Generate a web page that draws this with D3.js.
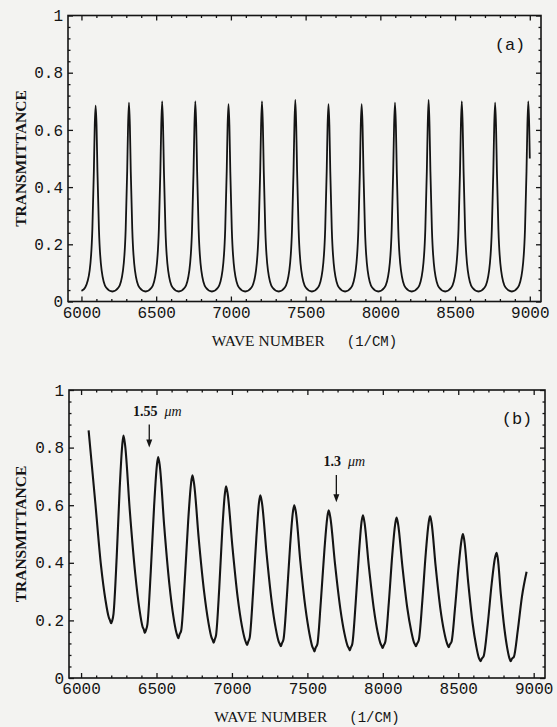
<!DOCTYPE html>
<html><head><meta charset="utf-8">
<script src="https://cdn.jsdelivr.net/npm/d3@7"></script>
<style>
html,body{margin:0;padding:0;background:#f3f3f1;}
svg{display:block;}
</style></head><body>
<svg id="chart" width="557" height="727"></svg>
<script>
// ---------- data ----------
const xTickValues = [6000, 6500, 7000, 7500, 8000, 8500, 9000];
const xTickLabels = ["6000", "6500", "7000", "7500", "8000", "8500", "9000"];
const yTickValues = [0, 0.2, 0.4, 0.6, 0.8, 1];
const yTickLabels = ["0", "0.2", "0.4", "0.6", "0.8", "1"];
const xAxisTitle = "WAVE NUMBER";
const xAxisUnit = "(1/CM)";
const yAxisTitle = "TRANSMITTANCE";
const panelLabels = ["(a)", "(b)"];

// (a) calculated transmittance [wave number, transmittance]
const panelASeries = [
 [6000,.037],[6025,.049],[6055,.109],[6073,.253],[6083,.455],[6089,.616],[6095,.685],[6101,.616],[6107,.455],[6117,.253],[6135,.109],[6165,.049],[6207,.035],
 [6248,.049],[6278,.109],[6296,.253],[6306,.455],[6312,.616],[6318,.695],[6324,.616],[6330,.455],[6340,.253],[6358,.109],[6388,.049],[6429,.035],
 [6470,.049],[6500,.109],[6518,.253],[6528,.455],[6534,.616],[6540,.70],[6546,.616],[6552,.455],[6562,.253],[6580,.109],[6610,.049],[6651,.035],
 [6692,.049],[6722,.109],[6740,.253],[6750,.455],[6756,.616],[6762,.70],[6768,.616],[6774,.455],[6784,.253],[6802,.109],[6832,.049],[6873,.035],
 [6914,.049],[6944,.109],[6962,.253],[6972,.455],[6978,.616],[6984,.69],[6990,.616],[6996,.455],[7006,.253],[7024,.109],[7054,.049],[7096,.035],
 [7138,.049],[7168,.109],[7186,.253],[7196,.455],[7202,.616],[7208,.70],[7214,.616],[7220,.455],[7230,.253],[7248,.109],[7278,.049],[7320,.035],
 [7361,.049],[7391,.109],[7409,.253],[7419,.455],[7425,.616],[7431,.705],[7437,.616],[7443,.455],[7453,.253],[7471,.109],[7501,.049],[7542,.035],
 [7583,.049],[7613,.109],[7631,.253],[7641,.455],[7647,.616],[7653,.69],[7659,.616],[7665,.455],[7675,.253],[7693,.109],[7723,.049],[7764,.035],
 [7805,.049],[7835,.109],[7853,.253],[7863,.455],[7869,.616],[7875,.69],[7881,.616],[7887,.455],[7897,.253],[7915,.109],[7945,.049],[7987,.035],
 [8028,.049],[8058,.109],[8076,.253],[8086,.455],[8092,.616],[8098,.695],[8104,.616],[8110,.455],[8120,.253],[8138,.109],[8168,.049],[8210,.035],
 [8253,.049],[8283,.109],[8301,.253],[8311,.455],[8317,.616],[8323,.705],[8329,.616],[8335,.455],[8345,.253],[8363,.109],[8393,.049],[8434,.035],
 [8475,.049],[8505,.109],[8523,.253],[8533,.455],[8539,.616],[8545,.70],[8551,.616],[8557,.455],[8567,.253],[8585,.109],[8615,.049],[8657,.035],
 [8698,.049],[8728,.109],[8746,.253],[8756,.455],[8762,.616],[8768,.695],[8774,.616],[8780,.455],[8790,.253],[8808,.109],[8838,.049],[8880,.035],
 [8920,.049],[8950,.109],[8968,.253],[8978,.455],[8984,.616],[8990,.70],[8996,.616],[9000,.50]
];

// (b) measured transmittance [wave number, transmittance]
const panelBSeries = [
 [6050,.86],[6095,.605],[6132,.391],[6162,.27],[6184,.21],[6192,.2],[6199,.19],[6206,.198],
 [6215,.223],[6236,.418],[6256,.659],[6273,.809],[6281,.842],
 [6292,.808],[6323,.581],[6359,.362],[6387,.238],[6408,.177],[6416,.168],[6422,.156],[6430,.166],
 [6440,.187],[6462,.37],[6484,.596],[6502,.736],[6511,.767],
 [6522,.736],[6551,.528],[6585,.327],[6612,.213],[6632,.157],[6639,.145],[6645,.138],[6652,.15],
 [6664,.166],[6687,.336],[6710,.546],[6729,.676],[6738,.704],
 [6749,.675],[6780,.483],[6816,.297],[6844,.193],[6865,.14],[6872,.132],[6879,.123],[6886,.134],
 [6895,.15],[6916,.313],[6936,.514],[6953,.639],[6961,.666],
 [6972,.638],[7003,.457],[7038,.28],[7066,.181],[7087,.132],[7094,.122],[7101,.115],[7108,.126],
 [7118,.141],[7140,.297],[7162,.489],[7179,.608],[7188,.634],
 [7199,.608],[7229,.435],[7263,.267],[7290,.173],[7310,.126],[7317,.118],[7324,.11],[7331,.12],
 [7342,.135],[7364,.282],[7386,.463],[7404,.576],[7413,.60],
 [7424,.575],[7453,.407],[7487,.244],[7514,.153],[7534,.107],[7541,.1],[7547,.092],[7554,.104],
 [7566,.117],[7589,.264],[7613,.445],[7632,.558],[7641,.582],
 [7652,.558],[7683,.397],[7718,.242],[7746,.154],[7767,.111],[7774,.104],[7781,.096],[7788,.106],
 [7798,.119],[7820,.26],[7842,.434],[7859,.542],[7868,.565],
 [7878,.542],[7907,.39],[7940,.242],[7966,.159],[7986,.118],[7993,.111],[7999,.104],[8006,.113],
 [8017,.127],[8040,.263],[8063,.43],[8082,.534],[8091,.557],
 [8101,.535],[8130,.387],[8162,.244],[8188,.164],[8207,.123],[8214,.116],[8220,.11],[8227,.119],
 [8239,.133],[8262,.268],[8285,.435],[8304,.539],[8313,.562],
 [8323,.539],[8350,.389],[8381,.243],[8406,.162],[8425,.121],[8431,.113],[8437,.107],[8444,.116],
 [8456,.127],[8479,.245],[8503,.39],[8522,.48],[8531,.50],
 [8540,.478],[8566,.332],[8595,.191],[8619,.111],[8636,.071],[8642,.064],[8648,.058],[8655,.066],
 [8669,.077],[8696,.19],[8722,.329],[8743,.416],[8754,.435],
 [8762,.416],[8782,.292],[8806,.171],[8825,.103],[8839,.069],[8844,.062],[8848,.058],[8855,.066],
 [8869,.074],[8895,.167],[8922,.282],[8953,.369]
];

// wavelength markers in panel (b)
const markerValues = ["1.55", "1.3"];
const markerUnit = "μm";
const markerWaves = [6452, 7692];
const markerArrowTop = [0.88, 0.705];
const markerArrowTip = [0.80, 0.61];
const markerTextLevel = [0.925, 0.75];

// ---------- drawing ----------
const svg = d3.select("#chart");
svg.append("rect").attr("width", 557).attr("height", 727).attr("fill", "#f3f3f1");

const ink = "#141414";
const monoFont = "'Liberation Mono','DejaVu Sans Mono',monospace";
const serifFont = "'Liberation Serif','DejaVu Serif',serif";

function drawPanel(cfg) {
  const x = d3.scaleLinear().domain(cfg.xDomain).range([cfg.left, cfg.right]);
  const y = d3.scaleLinear().domain([0, 1]).range([cfg.bottom, cfg.top]);
  const g = svg.append("g");

  const xMinor = d3.range(6000, 9001, 100).filter(v => v % 500 !== 0);
  const yMinor = d3.range(0, 1.0001, 0.04).map(v => +v.toFixed(2)).filter(v => Math.abs(v * 5 - Math.round(v * 5)) > 1e-6);

  function ax(axisFn, scale, vals, size, tr, labels, pad, fs) {
    const a = axisFn(scale).tickValues(vals).tickSizeInner(size).tickSizeOuter(0).tickPadding(pad || 3)
      .tickFormat(labels ? ((d, i) => labels[i]) : "");
    const sel = g.append("g").attr("transform", tr).call(a);
    sel.select(".domain").remove();
    sel.selectAll(".tick line").attr("stroke", ink).attr("stroke-width", 1.3);
    sel.selectAll(".tick text").attr("fill", ink).attr("font-family", monoFont).attr("font-size", fs || 16);
    return sel;
  }
  ax(d3.axisBottom, x, xTickValues, -5, `translate(0,${cfg.bottom})`, xTickLabels, 5);
  ax(d3.axisLeft, y, yTickValues, -5, `translate(${cfg.left},0)`, yTickLabels, 5);
  ax(d3.axisTop, x, xTickValues, -5, `translate(0,${cfg.top})`);
  ax(d3.axisRight, y, yTickValues, -5, `translate(${cfg.right},0)`);
  ax(d3.axisBottom, x, xMinor, -2.5, `translate(0,${cfg.bottom})`);
  ax(d3.axisTop, x, xMinor, -2.5, `translate(0,${cfg.top})`);
  ax(d3.axisLeft, y, yMinor, -2.5, `translate(${cfg.left},0)`);
  ax(d3.axisRight, y, yMinor, -2.5, `translate(${cfg.right},0)`);

  g.append("rect").attr("x", cfg.left).attr("y", cfg.top)
    .attr("width", cfg.right - cfg.left).attr("height", cfg.bottom - cfg.top)
    .attr("fill", "none").attr("stroke", ink).attr("stroke-width", 1.6);

  const line = d3.line().x(d => x(d[0])).y(d => y(d[1])).curve(d3.curveMonotoneX);
  g.append("path").datum(cfg.series).attr("d", line)
    .attr("fill", "none").attr("stroke", ink).attr("stroke-width", cfg.lineWidth)
    .attr("stroke-linejoin", "round");

  const cx = (cfg.left + cfg.right) / 2;
  const t = g.append("text").attr("x", cx).attr("y", cfg.titleY).attr("text-anchor", "middle").attr("fill", ink);
  t.append("tspan").attr("font-family", serifFont).attr("font-size", 15.5).text(xAxisTitle);
  t.append("tspan").attr("dx", 22).attr("font-family", monoFont).attr("font-size", 14).text(xAxisUnit);

  g.append("text").attr("transform", `translate(${cfg.yTitleX},${(cfg.top + cfg.bottom) / 2}) rotate(-90)`)
    .attr("text-anchor", "middle").attr("dominant-baseline", "central")
    .attr("font-family", serifFont).attr("font-weight", "bold").attr("font-size", 15.5)
    .attr("fill", ink).text(yAxisTitle);

  g.append("text").attr("x", cfg.labelX).attr("y", cfg.labelY).attr("text-anchor", "middle")
    .attr("font-family", monoFont).attr("font-size", 17).attr("fill", ink).text(cfg.label);

  return { x, y, g };
}

const panelA = drawPanel({
  xDomain: [5910, 9075], left: 68, right: 541, top: 15.5, bottom: 301.5,
  series: panelASeries, lineWidth: 1.8, titleY: 346, yTitleX: 20,
  label: panelLabels[0], labelX: 510, labelY: 50
});
const panelB = drawPanel({
  xDomain: [5920, 9075], left: 69, right: 545, top: 390, bottom: 678,
  series: panelBSeries, lineWidth: 2.1, titleY: 722, yTitleX: 20,
  label: panelLabels[1], labelX: 517, labelY: 424
});

markerValues.forEach((val, i) => {
  const { x, y, g } = panelB;
  const xv = x(markerWaves[i]);
  const y0 = y(markerArrowTop[i]), y1 = y(markerArrowTip[i]);
  g.append("line").attr("x1", xv).attr("x2", xv).attr("y1", y0).attr("y2", y1 - 6)
    .attr("stroke", ink).attr("stroke-width", 1.3);
  g.append("path").attr("d", `M${xv - 3},${y1 - 8} L${xv + 3},${y1 - 8} L${xv},${y1} Z`).attr("fill", ink);
  const tx = g.append("text").attr("x", xv + 8).attr("y", y(markerTextLevel[i]) + 4)
    .attr("text-anchor", "middle").attr("font-family", serifFont)
    .attr("font-size", 14).attr("fill", ink);
  tx.append("tspan").attr("font-weight", "bold").text(val);
  tx.append("tspan").attr("dx", 7).attr("font-style", "italic").text(markerUnit);
});
</script>
</body></html>
